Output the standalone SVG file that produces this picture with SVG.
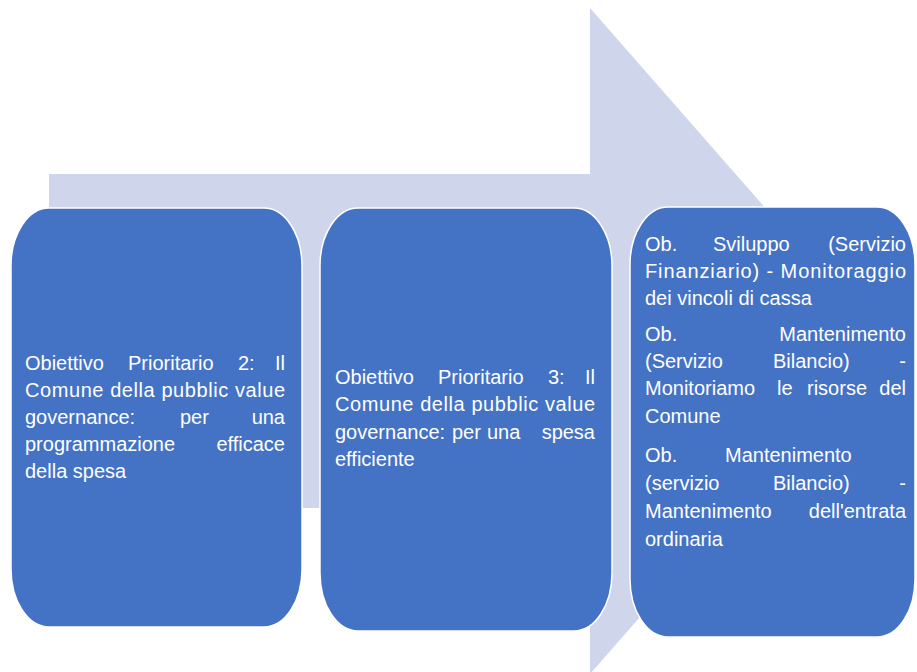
<svg xmlns="http://www.w3.org/2000/svg" width="917" height="672" viewBox="0 0 917 672">
<style>
.bg{fill:#FFFFFF}
.arrow{fill:#CFD5EA}
.box{fill:#4472C4;stroke:#FFFFFF;stroke-width:1.5}
.t{font-family:"Liberation Sans",Arial,sans-serif;font-size:20px;fill:#FFFFFF}
.e{text-anchor:end}
</style>
<rect class="bg" x="0" y="0" width="917" height="672"/>
<g id="connectors">
<polygon class="arrow" points="49,174 590,174 590,8 882,341 590,674 590,508 49,508"/>
</g>
<g id="node1">
<rect class="box" x="11" y="208" width="291" height="419" rx="38" ry="58"/>
<text class="t" y="370"><tspan x="25">Obiettivo</tspan><tspan x="128">Prioritario</tspan><tspan x="238">2:</tspan><tspan class="e" x="285">Il</tspan></text>
<text class="t" x="25" y="397" textLength="260" lengthAdjust="spacing">Comune della pubblic value</text>
<text class="t" y="424"><tspan x="25">governance:</tspan><tspan x="180">per</tspan><tspan class="e" x="285">una</tspan></text>
<text class="t" y="451"><tspan x="25">programmazione</tspan><tspan class="e" x="285">efficace</tspan></text>
<text class="t" x="25" y="478">della spesa</text>
</g>
<g id="node2">
<rect class="box" x="320" y="208" width="292" height="423" rx="38" ry="58"/>
<text class="t" y="384"><tspan x="335">Obiettivo</tspan><tspan x="438">Prioritario</tspan><tspan x="548">3:</tspan><tspan class="e" x="595">Il</tspan></text>
<text class="t" x="335" y="411" textLength="260" lengthAdjust="spacing">Comune della pubblic value</text>
<text class="t" y="439"><tspan x="335">governance:</tspan><tspan x="452">per</tspan><tspan x="487">una</tspan><tspan class="e" x="595">spesa</tspan></text>
<text class="t" x="335" y="466">efficiente</text>
</g>
<g id="node3">
<rect class="box" x="630" y="207" width="285" height="430" rx="38" ry="58"/>
<text class="t" y="251"><tspan x="645">Ob.</tspan><tspan x="713">Sviluppo</tspan><tspan class="e" x="906">(Servizio</tspan></text>
<text class="t" x="645" y="278" textLength="261" lengthAdjust="spacing">Finanziario) - Monitoraggio</text>
<text class="t" x="645" y="305">dei vincoli di cassa</text>
<text class="t" y="341"><tspan x="645">Ob.</tspan><tspan class="e" x="906">Mantenimento</tspan></text>
<text class="t" y="368"><tspan x="645">(Servizio</tspan><tspan x="773">Bilancio)</tspan><tspan class="e" x="906">-</tspan></text>
<text class="t" y="395"><tspan x="645">Monitoriamo</tspan><tspan x="777">le</tspan><tspan x="807">risorse</tspan><tspan class="e" x="906">del</tspan></text>
<text class="t" x="645" y="423">Comune</text>
<text class="t" y="462"><tspan x="645">Ob.</tspan><tspan x="725">Mantenimento</tspan></text>
<text class="t" y="490"><tspan x="645">(servizio</tspan><tspan x="773">Bilancio)</tspan><tspan class="e" x="906">-</tspan></text>
<text class="t" y="518"><tspan x="645">Mantenimento</tspan><tspan class="e" x="906">dell'entrata</tspan></text>
<text class="t" x="645" y="546">ordinaria</text>
</g>
</svg>
